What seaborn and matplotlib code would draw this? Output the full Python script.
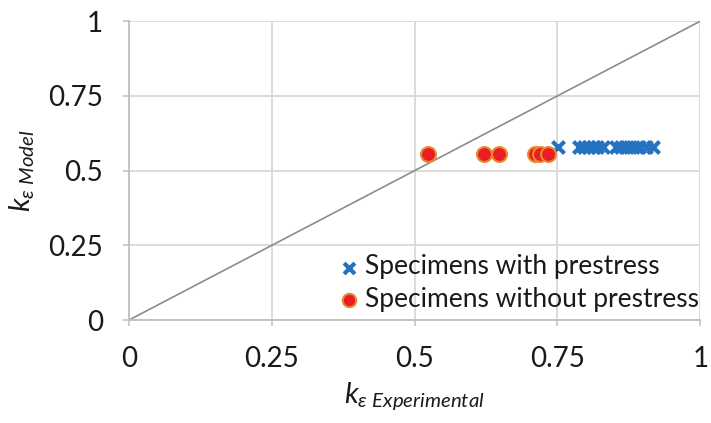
import matplotlib
matplotlib.use("Agg")
import matplotlib.pyplot as plt
import seaborn as sns
import pandas as pd

# Data
with_x = [0.751, 0.787, 0.797, 0.806, 0.812, 0.820, 0.829, 0.853, 0.862, 0.872, 0.882, 0.893, 0.905, 0.918]
with_y = [0.58] * len(with_x)
without_x = [0.524, 0.622, 0.648, 0.710, 0.720, 0.733]
without_y = [0.556] * len(without_x)
ticks = [0, 0.25, 0.5, 0.75, 1]
tick_labels = ["0", "0.25", "0.5", "0.75", "1"]
label_with = "Specimens with prestress"
label_without = "Specimens without prestress"

sns.set_theme(style="white")
plt.rcParams['font.family'] = ['Lato', 'DejaVu Sans']
plt.rcParams['mathtext.fontset'] = 'custom'
plt.rcParams['mathtext.rm'] = 'Lato'
plt.rcParams['mathtext.it'] = 'Lato:italic'

fig = plt.figure(figsize=(7.11, 4.23), dpi=100)
ax = fig.add_axes([0.181, 0.243, 0.804, 0.707])

ax.plot([0, 1], [0, 1], color="#8c8c8c", lw=1.2, zorder=2)

df_w = pd.DataFrame({"x": with_x, "y": with_y})
df_wo = pd.DataFrame({"x": without_x, "y": without_y})

sns.scatterplot(data=df_w, x="x", y="y", ax=ax, marker="x", s=75, color="#2472c0",
                linewidth=3, label=label_with, zorder=3)
sns.scatterplot(data=df_wo, x="x", y="y", ax=ax, marker="o", s=115, color="#ec1c24",
                edgecolor="#e58a2e", linewidth=1.5, label=label_without, zorder=4)

ax.set_xlim(0, 1)
ax.set_ylim(0, 1)
ax.set_xticks(ticks)
ax.set_xticklabels(tick_labels)
ax.set_yticks(ticks)
ax.set_yticklabels(tick_labels)
ax.grid(True, color="#d9d9d9", lw=1.3)
ax.set_axisbelow(True)
for side in ["top", "right"]:
    ax.spines[side].set_visible(False)
for side in ["left", "bottom"]:
    ax.spines[side].set_color("#bfbfbf")
    ax.spines[side].set_linewidth(1.3)
ax.tick_params(axis="both", labelsize=20, labelcolor="#1a1a1a", color="#bfbfbf",
               length=4.5, width=1.1, direction="out", pad=14, left=True, bottom=True)

ax.set_xlabel(r"$k_{\varepsilon\ \mathit{Experimental}}$", fontsize=21, color="#1a1a1a", labelpad=6)
ax.set_ylabel(r"$k_{\varepsilon\ \mathit{Model}}$", fontsize=21, color="#1a1a1a", labelpad=8)

leg = ax.legend(loc="lower right", bbox_to_anchor=(1.025, -0.025), frameon=False, fontsize=19,
                handletextpad=0.05, labelspacing=0.28, borderaxespad=0.2, handlelength=1.1,
                markerscale=0.9)
for t in leg.get_texts():
    t.set_color("#1a1a1a")

fig.savefig("out.png", dpi=100)
